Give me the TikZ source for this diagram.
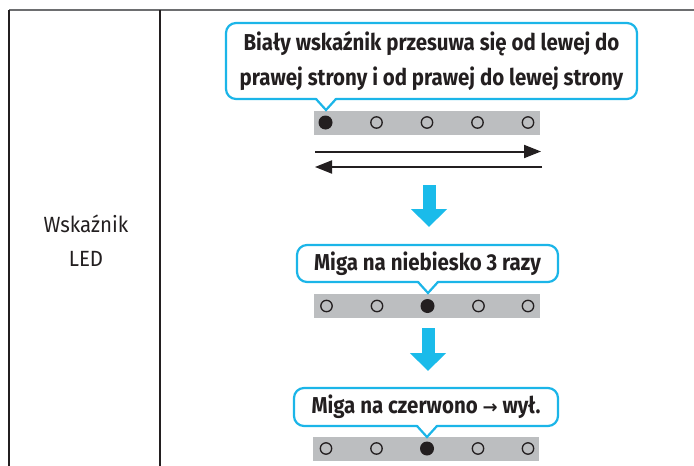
\documentclass[tikz,border=0pt]{standalone}
\usepackage{fontspec}
\setmainfont{Fira Sans}
\newfontfamily\bubblefont[FakeStretch=0.89]{Fira Sans}
\newfontfamily\labelfont[FakeStretch=0.93]{Fira Sans}
\newfontfamily\symfont{DejaVu Sans}
\usetikzlibrary{arrows.meta}
\definecolor{ledcyan}{HTML}{1BB5E8}
\definecolor{arrowcyan}{HTML}{1ABBEA}
\definecolor{stripgrey}{HTML}{BCBEC0}
\definecolor{txt}{HTML}{231F20}
\definecolor{rulegrey}{HTML}{6D6E70}
\tikzset{
  bubble/.style={draw=ledcyan, line width=2.2pt, rounded corners=10pt, fill=white,
     inner sep=0pt, align=center, text=txt, font=\bubblefont\bfseries\fontsize{23}{35}\selectfont},
  pointer/.style={draw=ledcyan, line width=2.2pt, line join=miter},
  strip/.style={fill=stripgrey, draw=none, minimum width=226pt, minimum height=24pt, inner sep=0pt},
  ledon/.style={circle, fill=txt, minimum size=14pt, inner sep=0pt},
  ledoff/.style={circle, draw=txt, line width=1.3pt, fill=none, minimum size=11.4pt, inner sep=0pt},
  blackarrow/.style={draw=txt, line width=2pt, -{Triangle[length=17pt,width=13pt]}},
  bluearrow/.style={draw=arrowcyan, line width=13pt, -{Triangle[length=18pt,width=35pt]}},
  label/.style={text=txt, align=center, font=\labelfont\fontsize{22}{34}\selectfont}
}
\begin{document}
\begin{tikzpicture}[x=1pt,y=-1pt]
\useasboundingbox (0,0) rectangle (694,466);
% table lines
\coordinate (tl) at (9,10); \coordinate (tr) at (694,10);
\coordinate (bl) at (9,466); \coordinate (dt) at (160,10); \coordinate (db) at (160,466);
\draw[rulegrey, line width=2pt] (tl) -- (tr);
\draw[txt, line width=1.5pt] (tl) -- (bl);
\draw[txt, line width=1.5pt] (dt) -- (db);
\node[label] (lab) at (86,241) {Wskaźnik\\LED};

% ---- stage 1
\node[bubble, minimum width=411pt, minimum height=76pt] (b1) at (431.5,61)
  {Biały wskaźnik przesuwa się od lewej do\\prawej strony i od prawej do lewej strony};
\node[strip] (s1) at (427,122.5) {};
\foreach \x/\s [count=\i] in {325.5/ledon,376.5/ledoff,427/ledoff,477.5/ledoff,528/ledoff}{
  \node[\s] (l1\i) at (\x,122.5) {};
}
\coordinate (p1a) at (316,99); \coordinate (p1t) at (326,110); \coordinate (p1b) at (336,99);
\fill[white] (316,97) -- (p1t) -- (336,97) -- cycle;
\draw[pointer] (p1a) -- (p1t) -- (p1b);

\coordinate (r1s) at (315,151.5); \coordinate (r1e) at (541,151.5);
\coordinate (r2s) at (542,167); \coordinate (r2e) at (315,167);
\draw[blackarrow] (r1s) -- (r1e);
\draw[blackarrow] (r2s) -- (r2e);

\coordinate (a1s) at (429,185); \coordinate (a1e) at (429,227);
\draw[bluearrow] (a1s) -- (a1e);

% ---- stage 2
\node[bubble, minimum width=261pt, minimum height=37pt] (b2) at (427.5,263.5)
  {Miga na niebiesko 3 razy};
\node[strip] (s2) at (427,305.5) {};
\foreach \x/\s [count=\i] in {326.5/ledoff,377/ledoff,427.5/ledon,478.5/ledoff,528/ledoff}{
  \node[\s] (l2\i) at (\x,306) {};
}
\coordinate (p2a) at (418,282); \coordinate (p2t) at (428,293); \coordinate (p2b) at (438,282);
\fill[white] (418,280) -- (p2t) -- (438,280) -- cycle;
\draw[pointer] (p2a) -- (p2t) -- (p2b);

\coordinate (a2s) at (428,328); \coordinate (a2e) at (428,371);
\draw[bluearrow] (a2s) -- (a2e);

% ---- stage 3
\node[bubble, minimum width=264pt, minimum height=38pt] (b3) at (426,407)
  {Miga na czerwono {\symfont\bfseries\fontsize{18}{20}\selectfont→} wył.};
\node[strip] (s3) at (426,449) {};
\foreach \x/\s [count=\i] in {326/ledoff,376.5/ledoff,427/ledon,478/ledoff,528/ledoff}{
  \node[\s] (l3\i) at (\x,448.5) {};
}
\coordinate (p3a) at (417,426); \coordinate (p3t) at (427,437); \coordinate (p3b) at (437,426);
\fill[white] (417,424) -- (p3t) -- (437,424) -- cycle;
\draw[pointer] (p3a) -- (p3t) -- (p3b);
\end{tikzpicture}
\end{document}
